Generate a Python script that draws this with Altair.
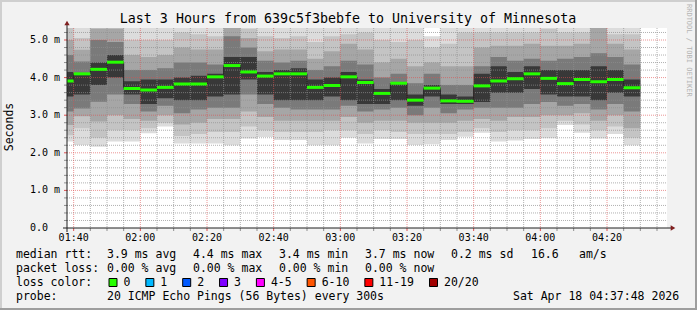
import altair as alt
import pandas as pd

# ---------------- data ----------------
col_end = ["01:40", "01:45", "01:50", "01:55", "02:00", "02:05", "02:10", "02:15",
           "02:20", "02:25", "02:30", "02:35", "02:40", "02:45", "02:50", "02:55",
           "03:00", "03:05", "03:10", "03:15", "03:20", "03:25", "03:30", "03:35",
           "03:40", "03:45", "03:50", "03:55", "04:00", "04:05", "04:10", "04:15",
           "04:20", "04:25", "04:30"]

median_ms = [3.91, 4.10, 4.22, 4.41, 3.71, 3.67, 3.74, 3.83, 3.83, 4.02, 4.32, 4.15,
             4.04, 4.10, 4.10, 3.74, 3.79, 4.02, 3.87, 3.58, 3.85, 3.40, 3.72, 3.38,
             3.37, 3.78, 3.91, 3.97, 4.10, 3.98, 3.84, 3.95, 3.89, 3.95, 3.73]

# smoke: sorted ping ranks (ms) per 5-minute column
p01 = [2.30, 2.21, 2.16, 2.30, 2.30, 2.52, 2.70, 2.25, 2.25, 2.25, 2.20, 2.38, 2.42, 2.34, 2.34, 2.20, 2.20, 2.40,
       2.25, 2.37, 2.37, 2.21, 2.23, 2.34, 2.43, 2.53, 2.30, 2.33, 2.37, 2.39, 2.74, 2.53, 2.38, 2.50, 2.20]
p03 = [2.47, 2.65, 2.40, 2.60, 2.60, 2.65, 2.80, 2.45, 2.50, 2.55, 2.55, 2.70, 2.60, 2.55, 2.55, 2.55, 2.60, 2.60,
       2.50, 2.60, 2.55, 2.50, 2.50, 2.50, 2.55, 2.65, 2.55, 2.60, 2.60, 2.65, 2.85, 2.75, 2.60, 2.70, 2.40]
p05 = [2.74, 2.97, 2.83, 3.00, 2.90, 2.85, 3.00, 2.75, 2.80, 2.90, 2.90, 3.10, 2.95, 2.85, 2.85, 2.85, 2.85, 2.95,
       2.80, 2.85, 2.85, 2.80, 2.80, 2.80, 2.85, 2.90, 2.85, 2.95, 2.95, 3.00, 3.00, 3.05, 2.85, 3.00, 2.65]
p07 = [3.10, 3.18, 3.36, 3.55, 3.30, 3.10, 3.25, 3.05, 3.15, 3.20, 3.20, 3.55, 3.30, 3.20, 3.15, 3.15, 3.15, 3.25,
       3.10, 3.15, 3.20, 3.00, 3.20, 3.05, 3.15, 3.20, 3.20, 3.20, 3.30, 3.35, 3.25, 3.30, 3.15, 3.30, 3.10]
p09 = [3.50, 3.55, 3.80, 4.00, 3.55, 3.30, 3.45, 3.40, 3.40, 3.50, 3.55, 3.95, 3.55, 3.40, 3.40, 3.40, 3.50, 3.40,
       3.30, 3.30, 3.40, 3.25, 3.50, 3.30, 3.30, 3.35, 3.60, 3.60, 3.70, 3.55, 3.50, 3.50, 3.40, 3.60, 3.50]
p12 = [4.15, 4.11, 4.40, 4.60, 3.90, 3.95, 3.95, 4.00, 4.05, 4.10, 4.55, 4.55, 4.15, 4.20, 4.25, 3.95, 4.00, 4.15,
       3.95, 3.70, 3.85, 3.55, 3.80, 3.55, 3.50, 4.10, 4.30, 4.15, 4.30, 4.20, 4.20, 4.20, 4.30, 4.20, 3.95]
p14 = [4.60, 4.43, 5.00, 4.95, 4.20, 4.20, 4.25, 4.40, 4.40, 4.35, 5.10, 4.80, 4.45, 4.40, 4.45, 4.20, 4.30, 4.45,
       4.35, 4.00, 4.10, 3.85, 4.10, 3.80, 3.80, 4.30, 4.55, 4.45, 4.50, 4.45, 4.50, 4.55, 4.65, 4.55, 4.35]
p16 = [5.00, 4.74, 5.30, 5.30, 4.60, 4.55, 4.60, 4.80, 4.75, 4.75, 5.40, 5.05, 4.70, 4.75, 4.75, 4.50, 4.70, 4.90,
       4.75, 4.40, 4.50, 4.30, 4.40, 4.30, 4.30, 4.80, 4.85, 4.85, 4.90, 4.85, 4.85, 4.90, 5.40, 4.90, 4.75]
p18 = [5.50, 5.05, 5.60, 5.60, 5.00, 5.00, 5.00, 5.20, 5.15, 5.10, 5.70, 5.30, 5.10, 5.05, 5.10, 4.95, 5.10, 5.15,
       5.20, 5.00, 4.95, 5.00, 4.80, 4.90, 5.20, 5.20, 5.20, 5.20, 5.20, 5.30, 5.20, 5.20, 5.60, 5.15, 5.15]
p20 = [5.80, 5.50, 5.80, 5.90, 5.60, 5.50, 5.50, 5.60, 5.60, 5.50, 5.90, 5.60, 5.50, 5.50, 5.50, 5.40, 5.50, 5.50,
       5.60, 5.40, 5.40, 5.40, 5.10, 5.40, 5.50, 5.50, 5.50, 5.50, 5.50, 5.70, 5.60, 5.60, 5.80, 5.50, 5.50]

y_tick_values = [0, 1, 2, 3, 4, 5]
y_tick_labels = ["0.0", "1.0 m", "2.0 m", "3.0 m", "4.0 m", "5.0 m"]
x_tick_labels = ["01:40", "02:00", "02:20", "02:40", "03:00", "03:20", "03:40", "04:00", "04:20"]

loss_labels = ["0", "1", "2", "3", "4-5", "6-10", "11-19", "20/20"]
loss_colors = ["#26ff00", "#00b8ff", "#0059ff", "#7e00ff", "#ff00ff", "#ff5500", "#ff0000", "#a10000"]

title_text = "Last 3 Hours from 639c5f3bebfe to University of Minnesota"

# ---------------- helpers ----------------
MONO = "DejaVu Sans Mono"
OX, OY = 67, 28          # plot origin in the page
W, H = 600, 200


def to_min(s):
    h, m = s.split(":")
    return int(h) * 60 + int(m)


ends = [to_min(s) for s in col_end]
starts = [e - 5 for e in ends]
x_tick_minutes = [to_min(s) for s in x_tick_labels]

XS = alt.Scale(domain=[98, 278], clamp=True)
YS = alt.Scale(domain=[0, 200 / 37.6], clamp=True)
one = pd.DataFrame({"d": [0]})

layers = []

# smoke bands, outer (light) to inner (dark)
bounds = [p01, p03, p05, p07, p09, p12, p14, p16, p18, p20]
shades = ["#dcdcdc", "#c4c4c4", "#a6a6a6", "#7a7a7a", "#383838"]
for k in range(5):
    lo, hi = bounds[k], bounds[9 - k]
    rows = [{"t": starts[i], "lo": lo[i], "hi": hi[i]} for i in range(len(starts))]
    rows.append({"t": ends[-1], "lo": lo[-1], "hi": hi[-1]})
    layers.append(
        alt.Chart(pd.DataFrame(rows)).mark_area(interpolate="step-after", color=shades[k]).encode(
            x=alt.X("t:Q", scale=XS, axis=None),
            y=alt.Y("lo:Q", scale=YS, axis=None, stack=None),
            y2="hi:Q",
        )
    )

# grid
minor_h = [round(0.2 * i, 1) for i in range(1, 27) if i % 5]
major_h = [1, 2, 3, 4, 5]
minor_v = [m for m in range(100, 278, 5) if m not in x_tick_minutes]
GRID = dict(color="#8f8f8f", opacity=0.7, strokeDash=[1, 1], strokeWidth=1)
MGRID = dict(color="#de4f4f", opacity=0.6, strokeDash=[1, 1], strokeWidth=1)

layers.append(alt.Chart(pd.DataFrame({"v": minor_h})).mark_rule(**GRID).encode(
    y=alt.Y("v:Q", scale=YS, axis=None), x=alt.value(0), x2=alt.value(W)))
layers.append(alt.Chart(pd.DataFrame({"v": minor_v})).mark_rule(**GRID).encode(
    x=alt.X("v:Q", scale=XS, axis=None), y=alt.value(0), y2=alt.value(H)))
layers.append(alt.Chart(pd.DataFrame({"v": major_h})).mark_rule(**MGRID).encode(
    y=alt.Y("v:Q", scale=YS, axis=None), x=alt.value(0), x2=alt.value(W)))
layers.append(alt.Chart(pd.DataFrame({"v": x_tick_minutes})).mark_rule(**MGRID).encode(
    x=alt.X("v:Q", scale=XS, axis=None), y=alt.value(0), y2=alt.value(H)))

# tick stubs on the axes
layers.append(alt.Chart(pd.DataFrame({"v": minor_h})).mark_rule(color="#8f8f8f").encode(
    y=alt.Y("v:Q", scale=YS, axis=None), x=alt.value(-3), x2=alt.value(0)))
layers.append(alt.Chart(pd.DataFrame({"v": major_h})).mark_rule(color="#de4f4f").encode(
    y=alt.Y("v:Q", scale=YS, axis=None), x=alt.value(-3), x2=alt.value(0)))
layers.append(alt.Chart(pd.DataFrame({"v": minor_v})).mark_rule(color="#8f8f8f").encode(
    x=alt.X("v:Q", scale=XS, axis=None), y=alt.value(H), y2=alt.value(H + 3)))
layers.append(alt.Chart(pd.DataFrame({"v": x_tick_minutes})).mark_rule(color="#de4f4f").encode(
    x=alt.X("v:Q", scale=XS, axis=None), y=alt.value(H), y2=alt.value(H + 3)))

# median step connectors and median segments
conn = pd.DataFrame({"t": starts[1:], "a": median_ms[:-1], "b": median_ms[1:]})
layers.append(alt.Chart(conn).mark_rule(color="#202020", strokeWidth=1).encode(
    x=alt.X("t:Q", scale=XS, axis=None), y=alt.Y("a:Q", scale=YS, axis=None), y2="b:Q"))
med = pd.DataFrame({"t0": starts, "t1": ends, "m": median_ms})
layers.append(alt.Chart(med).mark_rule(color="#26ff00", strokeWidth=3, strokeCap="butt").encode(
    x=alt.X("t0:Q", scale=XS, axis=None), x2="t1:Q", y=alt.Y("m:Q", scale=YS, axis=None)))

# axis lines and arrows
layers.append(alt.Chart(one).mark_rule(color="#1f1f1f").encode(
    x=alt.value(-4), x2=alt.value(W + 4), y=alt.value(H)))
layers.append(alt.Chart(one).mark_rule(color="#1f1f1f").encode(
    x=alt.value(0), y=alt.value(-3), y2=alt.value(H + 4)))
layers.append(alt.Chart(one).mark_point(shape="triangle-right", filled=True, size=28, color="#801f1f", opacity=1).encode(
    x=alt.value(W + 6), y=alt.value(H)))
layers.append(alt.Chart(one).mark_point(shape="triangle-up", filled=True, size=28, color="#801f1f", opacity=1).encode(
    x=alt.value(0), y=alt.value(-5)))

# frame shading of the page
layers.append(alt.Chart(one).mark_rule(color="#cfcfcf", strokeWidth=2).encode(
    x=alt.value(1 - OX), y=alt.value(-OY), y2=alt.value(310 - OY)))
layers.append(alt.Chart(one).mark_rule(color="#cfcfcf", strokeWidth=2).encode(
    y=alt.value(1 - OY), x=alt.value(-OX), x2=alt.value(697 - OX)))
layers.append(alt.Chart(one).mark_rule(color="#9e9e9e", strokeWidth=2).encode(
    x=alt.value(696 - OX), y=alt.value(-OY), y2=alt.value(310 - OY)))
layers.append(alt.Chart(one).mark_rule(color="#9e9e9e", strokeWidth=2).encode(
    y=alt.value(309 - OY), x=alt.value(-OX), x2=alt.value(697 - OX)))

# tick labels
layers.append(alt.Chart(pd.DataFrame({"v": y_tick_values, "lab": y_tick_labels})).mark_text(
    font=MONO, fontSize=10, align="left", baseline="middle", color="black").encode(
    y=alt.Y("v:Q", scale=YS, axis=None), x=alt.value(30 - OX), text="lab:N"))
layers.append(alt.Chart(pd.DataFrame({"v": x_tick_minutes, "lab": x_tick_labels})).mark_text(
    font=MONO, fontSize=10, align="center", baseline="middle", color="black").encode(
    x=alt.X("v:Q", scale=XS, axis=None), y=alt.value(238 - OY), text="lab:N"))


def txt(s, px, py, size=11.5, align="left", angle=0, color="black"):
    return alt.Chart(one).mark_text(text=s, font=MONO, fontSize=size, align=align,
                                    baseline="middle", angle=angle, color=color).encode(
        x=alt.value(px - OX), y=alt.value(py - OY))


layers.append(txt(title_text, 348, 19, size=13.3, align="center"))
layers.append(txt("Seconds", 10, 127, angle=270, align="center"))
layers.append(txt("RRDTOOL / TOBI OETIKER", 689, 4, size=7, angle=90, color="#b4b4b4"))

row1 = [("median rtt:", 16), ("3.9 ms avg", 107), ("4.4 ms max", 193), ("3.4 ms min", 279),
        ("3.7 ms now", 365), ("0.2 ms sd", 451), ("16.6", 531), ("am/s", 579)]
row2 = [("packet loss:", 16), ("0.00 % avg", 107), ("0.00 % max", 193), ("0.00 % min", 279),
        ("0.00 % now", 365)]
row4 = [("probe:", 16), ("20 ICMP Echo Pings (56 Bytes) every 300s", 107),
        ("Sat Apr 18 04:37:48 2026", 513)]
for s, px in row1:
    layers.append(txt(s, px, 254.5))
for s, px in row2:
    layers.append(txt(s, px, 268.5))
for s, px in row4:
    layers.append(txt(s, px, 296.5))
layers.append(txt("loss color:", 16, 282.5))

CW = 6.95
bx = 109.0
for lab, col in zip(loss_labels, loss_colors):
    layers.append(alt.Chart(one).mark_rect(color=col, stroke="black", strokeWidth=1).encode(
        x=alt.value(bx - OX), x2=alt.value(bx + 8 - OX),
        y=alt.value(278.5 - OY), y2=alt.value(286.5 - OY)))
    layers.append(txt(lab, bx + 14.5, 282.5))
    bx = bx + 14.5 + len(lab) * CW + 15.4

chart = alt.layer(*layers).properties(
    width=W, height=H,
    padding={"left": OX, "top": OY, "right": 697 - OX - W, "bottom": 310 - OY - H},
    autosize=alt.AutoSizeParams(type="none"),
    background="#f2f2f2",
).configure_view(stroke=None, fill="white")

chart.save("out.html", embed_options={"renderer": "svg", "actions": False})
